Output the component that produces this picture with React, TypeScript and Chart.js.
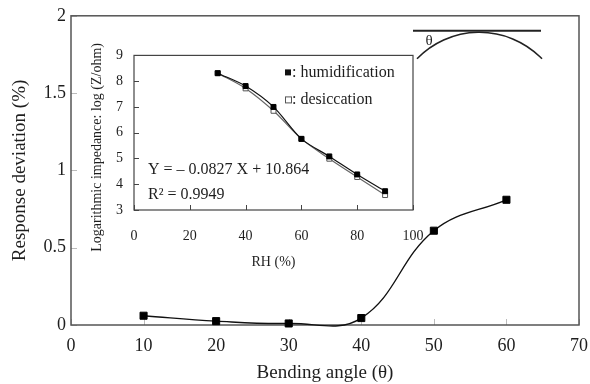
import React, { useEffect, useRef } from "react";
import { Chart, registerables } from "chart.js";

Chart.register(...registerables);

// Main series: response deviation against bending angle
const bendAngles = [10, 20, 30, 40, 50, 60];
const responseDeviation = [0.06, 0.025, 0.01, 0.045, 0.61, 0.81];

// Inset series: impedance against relative humidity
const rhLevels = [30, 40, 50, 60, 70, 80, 90];
const logZHumidification = [8.31, 7.81, 7.0, 5.76, 5.08, 4.38, 3.73];
const logZDesiccation = [8.31, 7.72, 6.85, 5.76, 4.99, 4.28, 3.58];

const fitEquation = "Y = \u2013 0.0827 X + 10.864";
const fitR2 = "R\u00b2 = 0.9949";

const FONT = "'Liberation Serif', 'Times New Roman', serif";
const INK = "#1e1e1e";

// Frame around the plot area plus short inward tick marks.
function frameAndTicks(id: string, frameColor: string, frameWidth: number, tickColor: string, tickLen: number) {
  return {
    id,
    beforeDatasetsDraw(chart: any) {
      const { ctx, chartArea: a, scales } = chart;
      ctx.save();
      ctx.strokeStyle = tickColor;
      ctx.lineWidth = 1;
      ctx.beginPath();
      for (const t of scales.x.ticks) {
        const px = Math.round(scales.x.getPixelForValue(t.value)) + 0.5;
        ctx.moveTo(px, a.bottom);
        ctx.lineTo(px, a.bottom - tickLen);
      }
      for (const t of scales.y.ticks) {
        const py = Math.round(scales.y.getPixelForValue(t.value)) + 0.5;
        ctx.moveTo(a.left, py);
        ctx.lineTo(a.left + tickLen, py);
      }
      ctx.stroke();
      ctx.strokeStyle = frameColor;
      ctx.lineWidth = frameWidth;
      ctx.strokeRect(a.left, a.top, a.right - a.left, a.bottom - a.top);
      ctx.restore();
    },
  };
}

// Schematic of the bent substrate in the upper-right corner.
const bendSketch = {
  id: "bendSketch",
  afterDraw(chart: any) {
    const { ctx, chartArea: a } = chart;
    ctx.save();
    ctx.strokeStyle = "#222";
    ctx.lineWidth = 2;
    ctx.beginPath();
    ctx.moveTo(a.right - 166, a.top + 15);
    ctx.lineTo(a.right - 38, a.top + 15);
    ctx.stroke();
    const x1 = a.right - 162, x2 = a.right - 37, yEnd = a.top + 43, yPeak = a.top + 16.5;
    const half = (x2 - x1) / 2;
    const sag = yEnd - yPeak;
    const r = (half * half + sag * sag) / (2 * sag);
    const cx = (x1 + x2) / 2, cy = yPeak + r;
    ctx.lineWidth = 1.6;
    ctx.beginPath();
    ctx.arc(cx, cy, r, Math.atan2(yEnd - cy, x1 - cx), Math.atan2(yEnd - cy, x2 - cx));
    ctx.stroke();
    ctx.fillStyle = INK;
    ctx.font = `15px ${FONT}`;
    ctx.textAlign = "center";
    ctx.textBaseline = "middle";
    ctx.fillText("\u03b8", a.right - 150, a.top + 25);
    ctx.restore();
  },
};

// Legend, fit equation and rotated axis title of the inset.
const insetAnnotations = {
  id: "insetAnnotations",
  afterDraw(chart: any) {
    const { ctx, chartArea: a } = chart;
    const ds = chart.data.datasets;
    ctx.save();
    ctx.fillStyle = INK;
    ctx.textBaseline = "middle";
    ctx.textAlign = "left";
    ctx.font = `16px ${FONT}`;
    const mx = a.right - 125;
    const rows = [a.top + 17, a.top + 44];
    rows.forEach((ry, i) => {
      if (i === 0) {
        ctx.fillStyle = "#111";
        ctx.fillRect(mx - 3, ry - 3, 6, 6);
      } else {
        ctx.fillStyle = "#fff";
        ctx.fillRect(mx - 3, ry - 3, 6, 6);
        ctx.strokeStyle = "#555";
        ctx.lineWidth = 1;
        ctx.strokeRect(mx - 2.5, ry - 2.5, 6, 6);
      }
      ctx.fillStyle = INK;
      ctx.fillText(": " + ds[i].label, mx + 4, ry);
    });
    ctx.font = `16px ${FONT}`;
    ctx.fillText(fitEquation, a.left + 14, a.bottom - 40);
    ctx.fillText(fitR2, a.left + 14, a.bottom - 15);
    // rotated y-axis title
    ctx.font = `14px ${FONT}`;
    ctx.textAlign = "center";
    ctx.translate(9, a.top + 92);
    ctx.rotate(-Math.PI / 2);
    ctx.fillText("Logarithmic impedance: log (Z/ohm)", 0, 0);
    ctx.restore();
  },
};

const plainNumber = (v: any) => String(Number(v));

export default function App() {
  const mainRef = useRef<HTMLCanvasElement>(null);
  const insetRef = useRef<HTMLCanvasElement>(null);

  useEffect(() => {
    const main = new Chart(mainRef.current!, {
      type: "line",
      data: {
        datasets: [
          {
            label: "Response deviation",
            data: bendAngles.map((x, i) => ({ x, y: responseDeviation[i] })),
            borderColor: "#111",
            borderWidth: 1.4,
            tension: 0.4,
            capBezierPoints: false,
            pointStyle: "rect",
            pointRadius: 5,
            pointBackgroundColor: "#000",
            pointBorderColor: "#000",
            pointBorderWidth: 1,
            clip: 10,
          } as any,
        ],
      },
      options: {
        responsive: false,
        animation: false,
        devicePixelRatio: 1,
        layout: { padding: { top: 15, right: 11, left: 0, bottom: 0 } },
        plugins: { legend: { display: false }, tooltip: { enabled: false } },
        scales: {
          x: {
            type: "linear",
            min: 0,
            max: 70,
            grid: { display: false, drawTicks: true, tickLength: 9 },
            border: { display: false },
            ticks: { stepSize: 10, padding: 1, color: INK, font: { family: FONT, size: 18 }, callback: plainNumber },
            title: { display: true, text: "Bending angle (\u03b8)", color: INK, font: { family: FONT, size: 19 }, padding: 0 },
            afterFit(s: any) { s.height = 59; },
          },
          y: {
            type: "linear",
            min: 0,
            max: 2,
            grid: { display: false, drawTicks: false },
            border: { display: false },
            ticks: { stepSize: 0.5, padding: 5, color: INK, font: { family: FONT, size: 18 }, callback: plainNumber },
            title: { display: true, text: "Response deviation (%)", color: INK, font: { family: FONT, size: 19 }, padding: { top: 9, bottom: 0 } },
            afterFit(s: any) { s.width = 71; },
          },
        },
      },
      plugins: [frameAndTicks("mainFrame", "#555", 1.5, "#bbb", 6), bendSketch],
    });

    const inset = new Chart(insetRef.current!, {
      type: "line",
      data: {
        datasets: [
          {
            label: "humidification",
            data: rhLevels.map((x, i) => ({ x, y: logZHumidification[i] })),
            borderColor: "#111",
            borderWidth: 1.2,
            tension: 0.3,
            pointStyle: "rect",
            pointRadius: 3.5,
            pointBackgroundColor: "#000",
            pointBorderColor: "#000",
            pointBorderWidth: 1,
          } as any,
          {
            label: "desiccation",
            data: rhLevels.map((x, i) => ({ x, y: logZDesiccation[i] })),
            borderColor: "#666",
            borderWidth: 1.2,
            tension: 0.3,
            pointStyle: "rect",
            pointRadius: 3.5,
            pointBackgroundColor: "#fff",
            pointBorderColor: "#555",
            pointBorderWidth: 1,
          } as any,
        ],
      },
      options: {
        responsive: false,
        animation: false,
        devicePixelRatio: 1,
        layout: { padding: { top: 18, right: 15, left: 0, bottom: 0 } },
        plugins: { legend: { display: false }, tooltip: { enabled: false } },
        scales: {
          x: {
            type: "linear",
            min: 0,
            max: 100,
            grid: { display: false, drawTicks: true, tickLength: 15 },
            border: { display: false },
            ticks: { stepSize: 20, padding: 3, color: INK, font: { family: FONT, size: 14 } },
            title: { display: true, text: "RH (%)", color: INK, font: { family: FONT, size: 14 }, padding: { top: 0, bottom: 5 } },
            afterFit(s: any) { s.height = 66; },
          },
          y: {
            type: "linear",
            min: 3,
            max: 9,
            grid: { display: false, drawTicks: false },
            border: { display: false },
            ticks: { stepSize: 1, padding: 11, color: INK, font: { family: FONT, size: 14 } },
            afterFit(s: any) { s.width = 46; },
          },
        },
      },
      plugins: [frameAndTicks("insetFrame", "#444", 1.2, "#444", 5), insetAnnotations],
    });

    return () => {
      main.destroy();
      inset.destroy();
    };
  }, []);

  return (
    <div style={{ position: "fixed", left: 0, top: 0, width: 590, height: 384, background: "#fff" }}>
      <canvas ref={mainRef} width={590} height={384} style={{ position: "absolute", left: 0, top: 0, width: 590, height: 384 }} />
      <canvas ref={insetRef} width={340} height={240} style={{ position: "absolute", left: 88, top: 36, width: 340, height: 240 }} />
    </div>
  );
}
